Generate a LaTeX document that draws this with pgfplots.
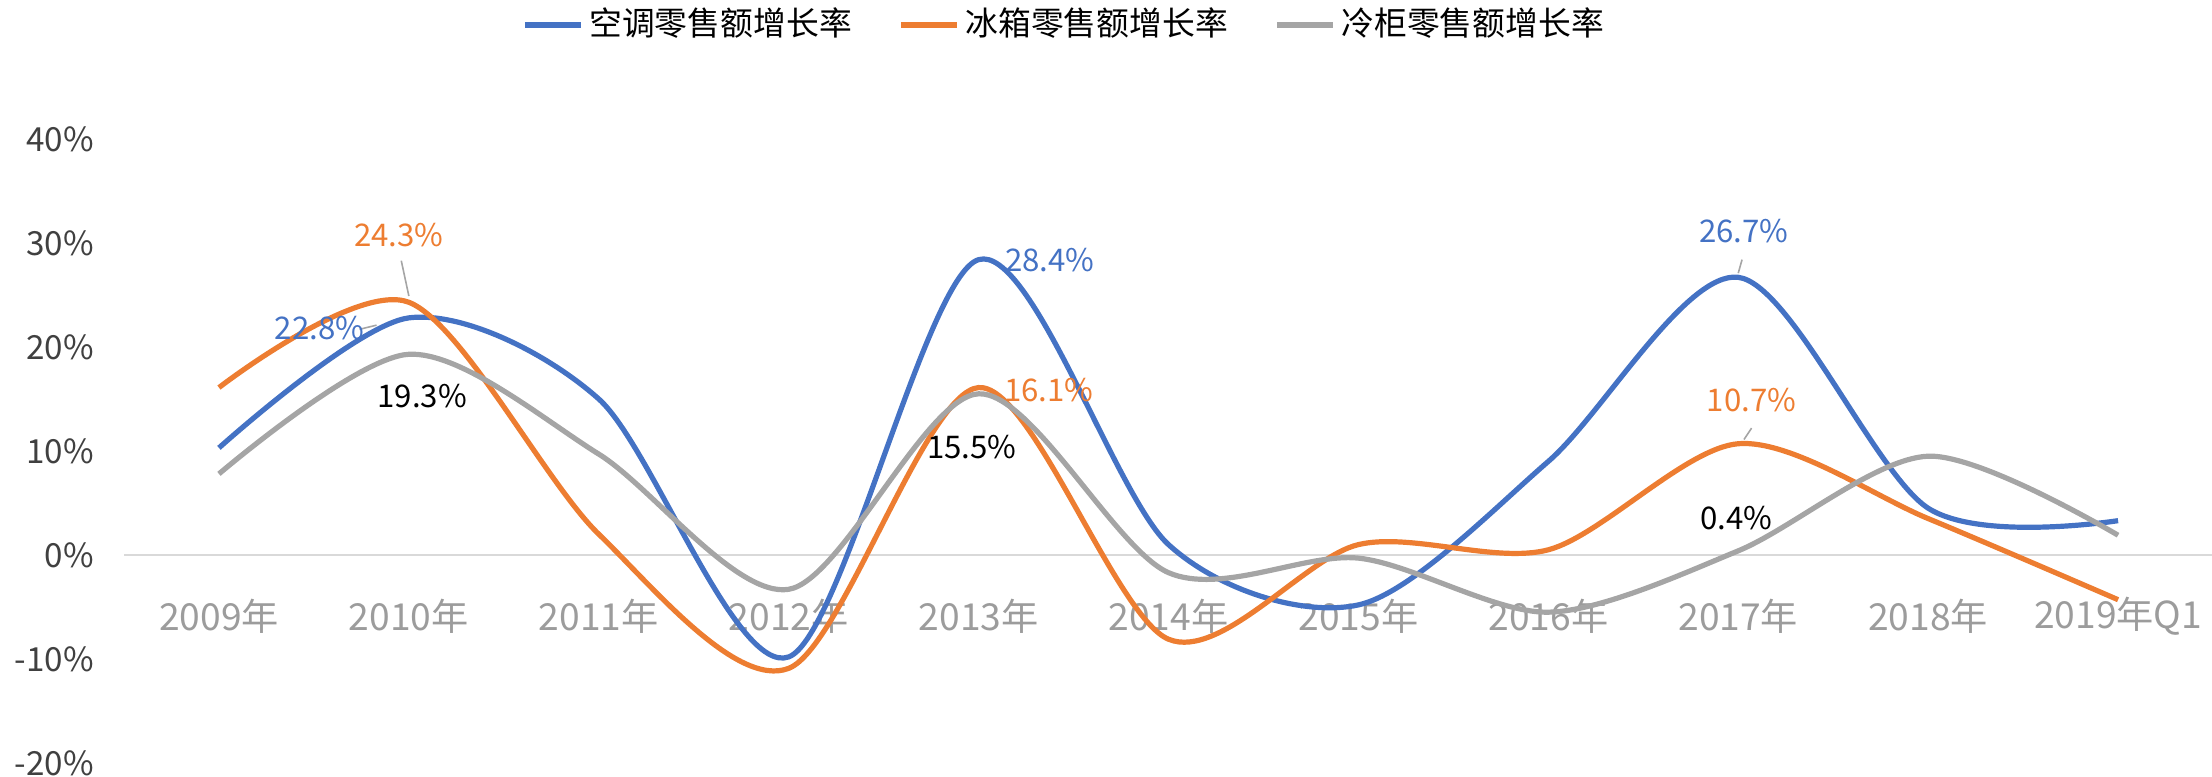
\documentclass[border=0pt]{standalone}
\usepackage{fontspec}
\setmainfont{Noto Sans CJK SC}
\usepackage{pgfplots}
\pgfplotsset{compat=1.18}

\definecolor{acblue}{HTML}{4472C4}
\definecolor{fridge}{HTML}{ED7D31}
\definecolor{freezer}{HTML}{A5A5A5}
\definecolor{zeroline}{HTML}{D9D9D9}
\definecolor{xtext}{HTML}{9C9C9C}
\definecolor{ytext}{HTML}{404040}

\begin{document}
\begin{tikzpicture}
  \begin{axis}[
      at={(0pt,0pt)}, anchor=south west,
      width=522.25pt, height=156pt, scale only axis,
      xmin=-0.5, xmax=10.5,
      ymin=-20, ymax=40,
      axis x line*=middle, axis y line*=left,
      x axis line style={draw=zeroline, line width=0.6pt},
      y axis line style={draw=none},
      major tick length=0pt,
      xtick={0,...,10},
      xticklabels={2009年,2010年,2011年,2012年,2013年,2014年,2015年,2016年,2017年,2018年,2019年Q1},
      ytick={-20,-10,...,40},
      yticklabel={\pgfmathprintnumber{\tick}\%},
      /pgf/number format/assume math mode=true,
      xticklabel style={font=\fontsize{9.3}{10}\selectfont, text=xtext, anchor=center, yshift=-15.25pt},
      yticklabel style={font=\fontsize{8.3}{10}\selectfont, text=ytext, anchor=east, xshift=-4pt},
      legend columns=3,
      legend style={at={(0.4495,1)}, anchor=center, yshift=28.5pt, draw=none, fill=none,
        font=\fontsize{8.2}{10}\selectfont, inner sep=0pt,
        nodes={inner xsep=0pt},
        /tikz/every odd column/.append style={column sep=1.5pt},
        /tikz/every even column/.append style={column sep=11.6pt}},
      legend cell align=left,
      legend image code/.code={\draw[#1] (0pt,0pt) -- (14pt,0pt);},
      every axis plot/.append style={line width=1.3pt, smooth, no marks},
    ]
    % air conditioner retail growth
    \addplot[acblue] coordinates {
      (0,10.3)(1,22.8)(2,15.0)(3,-9.8)(4,28.4)(5,1.0)(6,-4.8)(7,9.0)(8,26.7)(9,4.5)(10,3.3)
    };
    \addlegendentry{空调零售额增长率}
    % refrigerator
    \addplot[fridge] coordinates {
      (0,16.1)(1,24.3)(2,2.0)(3,-10.9)(4,16.1)(5,-8.1)(6,1.0)(7,0.5)(8,10.7)(9,3.5)(10,-4.3)
    };
    \addlegendentry{冰箱零售额增长率}
    % freezer
    \addplot[freezer] coordinates {
      (0,7.8)(1,19.3)(2,9.7)(3,-3.3)(4,15.5)(5,-1.7)(6,-0.3)(7,-5.5)(8,0.4)(9,9.5)(10,1.9)
    };
    \addlegendentry{冷柜零售额增长率}

    % data labels
    \begin{scope}[every node/.style={font=\fontsize{7.8}{9}\selectfont, inner sep=0pt}]
      \draw[freezer, line width=0.4pt] (0.74,21.7) -- (0.83,22.1);
      \node[text=acblue] at (0.53,21.8) {22.8\%};
      \draw[freezer, line width=0.4pt] (0.96,28.3) -- (1.0,24.9);
      \node[text=fridge] at (0.948,30.8) {24.3\%};
      \node[text=black] at (1.07,15.3) {19.3\%};
      \node[text=acblue] at (4.376,28.4) {28.4\%};
      \node[text=fridge] at (4.37,15.9) {16.1\%};
      \node[text=black] at (3.965,10.4) {15.5\%};
      \draw[freezer, line width=0.4pt] (8.02,28.4) -- (8.0,27.1);
      \node[text=acblue] at (8.03,31.1) {26.7\%};
      \draw[freezer, line width=0.4pt] (8.07,12.2) -- (8.03,11.1);
      \node[text=fridge] at (8.07,14.9) {10.7\%};
      \node[text=black] at (7.99,3.55) {0.4\%};
    \end{scope}
  \end{axis}
  \pgfresetboundingbox
  \path[use as bounding box] (-31pt,-3.5pt) rectangle (522pt,190.75pt);
\end{tikzpicture}
\end{document}
